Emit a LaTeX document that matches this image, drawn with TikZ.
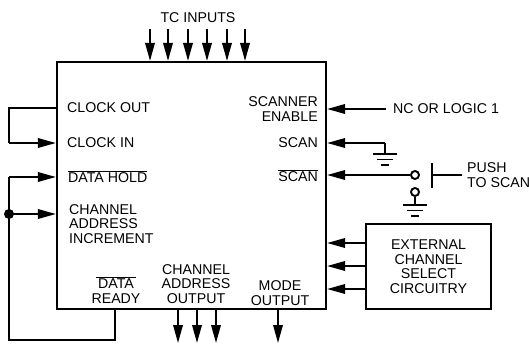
\documentclass[tikz,border=0pt]{standalone}
\usepackage{fontspec}
\setmainfont{Liberation Sans}
\usetikzlibrary{arrows.meta}
\tikzset{
	blockbox/.style={draw, line width=2.2pt, inner sep=0pt},
	wire/.style={line width=1.9pt},
	sig/.style={wire, -{Triangle[length=18pt, width=9.5pt]}},
	lbl/.style={inner sep=0pt, font=\fontsize{14.2}{14.6}\selectfont},
	contact/.style={circle, draw, line width=1.9pt, fill=white, minimum size=8pt, inner sep=0pt},
	ground/.pic={
		\draw[line width=1.9pt] (-12, 0) -- (12, 0);
		\draw[line width=1.9pt] (-8, 5.5) -- (8, 5.5);
		\draw[line width=1.9pt] (-4, 11) -- (4, 11);
	}
}
\begin{document}
\begin{tikzpicture}[x=1pt, y=-1pt]
	\useasboundingbox (0, 0) rectangle (529, 343);
	
	\node[blockbox, minimum width=269pt, minimum height=247pt] (chip) at (191.5, 185.5) {};
	\node[blockbox, minimum width=125pt, minimum height=85pt] (select) at (428.5, 266.5) {};
	
	\foreach \x in {150, 168, 188, 207, 227, 245} {
		\coordinate (tc\x) at (\x, 29);
		\draw[sig] (tc\x) -- (tc\x |- chip.north);
	}
	\foreach \x in {178, 197, 216, 278} {
		\coordinate (out\x) at (\x, 343);
		\draw[sig] (out\x |- chip.south) -- (out\x);
	}
	\foreach \y in {243, 266, 289} {
		\coordinate (sel\y) at (select.west |- 0, \y);
		\draw[sig] (sel\y) -- (sel\y -| chip.east);
	}
	
	\coordinate (clkout) at (chip.west |- 0, 108);
	\coordinate (clkin) at (chip.west |- 0, 143);
	\coordinate (hold) at (chip.west |- 0, 177);
	\coordinate (incr) at (chip.west |- 0, 214);
	\coordinate (ready) at (115, 309);
	\coordinate (loopa) at (9, 340);
	\draw[wire] (clkout) -- (9, 108) -- (9, 143);
	\draw[sig] (9, 143) -- (clkin);
	\draw[wire] (ready) -- (ready |- loopa) -- (loopa) -- (9, 177);
	\draw[sig] (9, 177) -- (hold);
	\draw[sig] (9, 214) -- (incr);
	\fill (9, 214) circle (5);
	
	\coordinate (nc) at (386, 109);
	\draw[sig] (nc) -- (nc -| chip.east);
	\coordinate (scan) at (385, 143);
	\draw[wire] (scan) -- (385, 154);
	\draw[sig] (scan) -- (scan -| chip.east);
	\pic at (385, 154) {ground};
	
	\node[contact] (top) at (415, 175) {};
	\node[contact] (bot) at (415, 192) {};
	\draw[sig] (top) -- (top -| chip.east);
	\draw[wire] (bot) -- (415, 205);
	\pic at (415, 205) {ground};
	\coordinate (push) at (432, 175);
	\draw[wire] (432, 163) -- (432, 188);
	\draw[wire] (push) -- (462, 175);
	
	\node[lbl] (tclbl) at (198, 18) {TC INPUTS};
	\node[lbl, anchor=west] (clkoutlbl) at (67, 108) {CLOCK OUT};
	\node[lbl, anchor=west] (clkinlbl) at (67, 143) {CLOCK IN};
	\node[lbl, anchor=west] (holdlbl) at (68, 177) {$\overline{\mbox{DATA HOLD}}$};
	\node[lbl, anchor=west, align=left] (incrlbl) at (69, 224) {CHANNEL\\ADDRESS\\INCREMENT};
	\node[lbl, align=center] (readylbl) at (116, 290) {$\overline{\mbox{\,DATA\,}}$\\READY};
	\node[lbl, align=center] (addrlbl) at (196, 284) {CHANNEL\\ADDRESS\\OUTPUT};
	\node[lbl, align=center] (modelbl) at (280, 293) {MODE\\OUTPUT};
	\node[lbl, anchor=east, align=right] (enablelbl) at (318, 109) {SCANNER\\ENABLE};
	\node[lbl, anchor=east] (scanlbl) at (318, 143) {SCAN};
	\node[lbl, anchor=east] (nscanlbl) at (318, 176) {$\overline{\mbox{SCAN}}$};
	\node[lbl, anchor=west] (nclbl) at (393, 109) {NC OR LOGIC 1};
	\node[lbl, anchor=west, align=left] (pushlbl) at (467, 175) {PUSH\\TO SCAN};
	\node[lbl, align=center] at (select) {EXTERNAL\\CHANNEL\\SELECT\\CIRCUITRY};
\end{tikzpicture}
\end{document}
